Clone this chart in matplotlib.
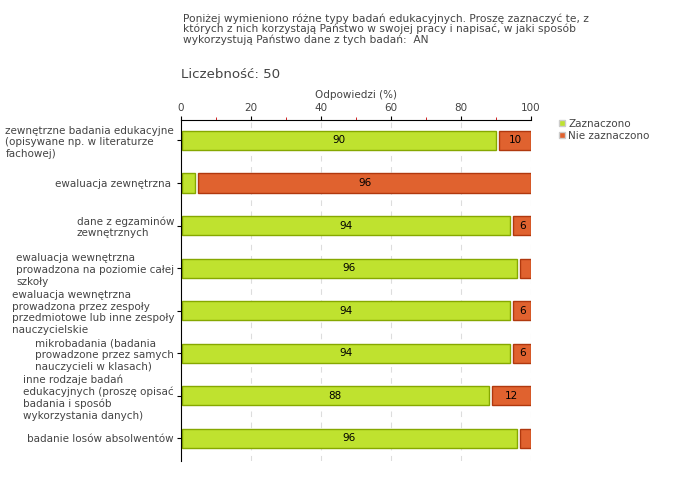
import numpy as np
import matplotlib
matplotlib.use("Agg")
import matplotlib.pyplot as plt
from matplotlib.patches import Patch
from matplotlib.ticker import MultipleLocator

categories = [
    "zewnętrzne badania edukacyjne\n(opisywane np. w literaturze\nfachowej)",
    "ewaluacja zewnętrzna ",
    "dane z egzaminów\nzewnętrznych",
    "ewaluacja wewnętrzna\nprowadzona na poziomie całej\nszkoły",
    "ewaluacja wewnętrzna\nprowadzona przez zespoły\nprzedmiotowe lub inne zespoły\nnauczycielskie",
    "mikrobadania (badania\nprowadzone przez samych\nnauczycieli w klasach)",
    "inne rodzaje badań\nedukacyjnych (proszę opisać\nbadania i sposób\nwykorzystania danych)",
    "badanie losów absolwentów",
]
zaznaczono = [90, 4, 94, 96, 94, 94, 88, 96]
nie_zaznaczono = [10, 96, 6, 4, 6, 6, 12, 4]

green, green_edge = "#bfe22f", "#86a800"
red, red_edge = "#e0622f", "#b0380e"
grey = "#444444"

plt.rcParams["font.family"] = "DejaVu Sans"
fig = plt.figure(figsize=(6.8, 4.8), dpi=100)
# axes box: x 181..531 px, y 120..461 px
ax = fig.add_axes([181 / 680, 19 / 480, 350 / 680, 341 / 480])

y = np.arange(len(categories))
gap = 0.9
bh = 0.45
ax.barh(y, np.array(zaznaczono) - 0.4, left=0.4, height=bh, color=green,
        edgecolor=green_edge, lw=1)
ax.barh(y, np.array(nie_zaznaczono) - gap, left=np.array(zaznaczono) + gap,
        height=bh, color=red, edgecolor=red_edge, lw=1)

for i in range(len(categories)):
    if zaznaczono[i] > 5:
        ax.text(zaznaczono[i] / 2, y[i], str(zaznaczono[i]), ha="center",
                va="center", fontsize=7.5, color="black")
    if nie_zaznaczono[i] > 5:
        ax.text(zaznaczono[i] + gap + (nie_zaznaczono[i] - gap) / 2, y[i],
                str(nie_zaznaczono[i]), ha="center", va="center",
                fontsize=7.5, color="black")

ax.set_xlim(0, 100)
ax.set_ylim(len(categories) - 0.47, -0.48)
ax.xaxis.tick_top()
ax.xaxis.set_label_position("top")
ax.set_xticks([0, 20, 40, 60, 80, 100])
ax.xaxis.set_minor_locator(MultipleLocator(10))
ax.tick_params(axis="x", which="major", length=3, color="black",
               labelsize=7.5, labelcolor=grey, pad=2)
ax.tick_params(axis="x", which="minor", length=2, color="#cc0000")
ax.set_xlabel("Odpowiedzi (%)", fontsize=7.5, color=grey, labelpad=4)
for xv in [20, 40, 60, 80, 100]:
    ax.axvline(xv, color="#dddddd", lw=0.8, ls=(0, (5, 5)), zorder=0)

ax.set_yticks(y)
ax.set_yticklabels(categories, fontsize=7.5, color=grey, multialignment="left")
ax.tick_params(axis="y", length=3, color="black", pad=2)

ax.spines["right"].set_visible(False)
ax.spines["bottom"].set_visible(False)
ax.spines["left"].set_color("black")
ax.spines["top"].set_color("black")

handles = [Patch(facecolor=green, edgecolor="#cccccc"),
           Patch(facecolor=red, edgecolor="#cccccc")]
ax.legend(handles, ["Zaznaczono", "Nie zaznaczono"], loc="upper left",
          bbox_to_anchor=(1.068, 1.016), frameon=False, fontsize=7.5,
          handlelength=0.55, handleheight=0.55, handletextpad=0.35,
          labelspacing=0.2, labelcolor=grey, borderaxespad=0)

fig.text(183 / 680, 1 - 13 / 480,
         "Poniżej wymieniono różne typy badań edukacyjnych. Proszę zaznaczyć te, z\n"
         "których z nich korzystają Państwo w swojej pracy i napisać, w jaki sposób\n"
         "wykorzystują Państwo dane z tych badań:  AN",
         ha="left", va="top", fontsize=7.7, color=grey, linespacing=1.02)
fig.text(181 / 680, 1 - 75 / 480, "Liczebność: 50", ha="left", va="center",
         fontsize=9.6, color=grey)

fig.savefig("out.png", dpi=100)
